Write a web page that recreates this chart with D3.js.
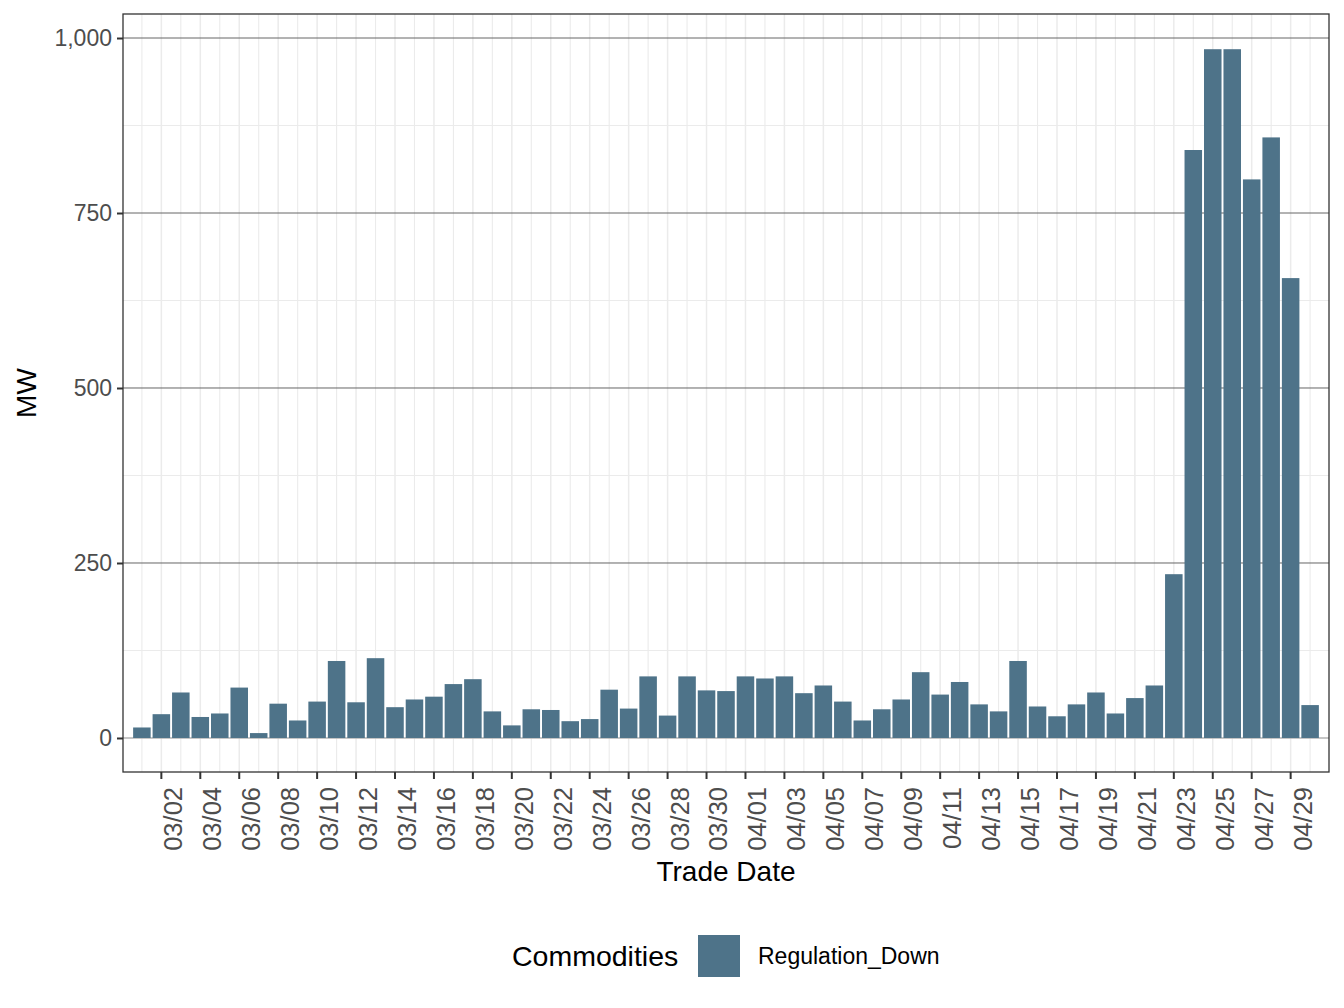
<!DOCTYPE html>
<html>
<head>
<meta charset="utf-8">
<script src="https://cdn.jsdelivr.net/npm/d3@7"></script>
<style>
    body { margin: 0; background: #fff; }
    text { font-family: "Liberation Sans", Arial, sans-serif; }
</style>
</head>
<body>
<svg id="chart" width="1344" height="1008"></svg>
<script>
const dates = [
    "03/01", "03/02", "03/03", "03/04", "03/05", "03/06", "03/07", "03/08", "03/09", "03/10",
    "03/11", "03/12", "03/13", "03/14", "03/15", "03/16", "03/17", "03/18", "03/19", "03/20",
    "03/21", "03/22", "03/23", "03/24", "03/25", "03/26", "03/27", "03/28", "03/29", "03/30",
    "03/31", "04/01", "04/02", "04/03", "04/04", "04/05", "04/06", "04/07", "04/08", "04/09",
    "04/10", "04/11", "04/12", "04/13", "04/14", "04/15", "04/16", "04/17", "04/18", "04/19",
    "04/20", "04/21", "04/22", "04/23", "04/24", "04/25", "04/26", "04/27", "04/28", "04/29",
    "04/30"
];
const regulationDown = [
    15, 34, 65, 30, 35, 72, 7, 49, 25, 52,
    110, 51, 114, 44, 55, 59, 77, 84, 38, 18,
    41, 40, 24, 27, 69, 42, 88, 32, 88, 68,
    67, 88, 85, 88, 64, 75, 52, 25, 41, 55,
    94, 62, 80, 48, 38, 110, 45, 31, 48, 65,
    35, 57, 75, 234, 840, 984, 984, 798, 858, 657,
    47
];
const xTickLabels = [
    "03/02", "03/04", "03/06", "03/08", "03/10", "03/12", "03/14", "03/16", "03/18", "03/20",
    "03/22", "03/24", "03/26", "03/28", "03/30", "04/01", "04/03", "04/05", "04/07", "04/09",
    "04/11", "04/13", "04/15", "04/17", "04/19", "04/21", "04/23", "04/25", "04/27", "04/29"
];
const yTicks = [0, 250, 500, 750, 1000];
const yMinor = [125, 375, 625, 875];
const seriesName = "Regulation_Down";
const barColor = "#4e7389";

const svg = d3.select("#chart");
const panelLeft = 123, panelRight = 1329, panelTop = 14, panelBottom = 772;

let x = d3.scaleBand().domain(dates).range([panelLeft, panelRight])
    .paddingInner(0.1).paddingOuter(0.52);
let y = d3.scaleLinear().domain([-48.6, 1034.3]).range([panelBottom, panelTop]);
let cx = (d) => x(d) + x.bandwidth() / 2;

// grid
let grid = svg.append("g");
grid.selectAll(".vgrid")
    .data(dates)
    .enter()
    .append("line")
    .attr("x1", cx).attr("x2", cx)
    .attr("y1", panelTop).attr("y2", panelBottom)
    .attr("stroke", "#ebebeb")
    .attr("stroke-width", (d) => xTickLabels.includes(d) ? 1.5 : 1.1);
grid.selectAll(".hminor")
    .data(yMinor)
    .enter()
    .append("line")
    .attr("x1", panelLeft).attr("x2", panelRight)
    .attr("y1", (d) => y(d)).attr("y2", (d) => y(d))
    .attr("stroke", "#ebebeb")
    .attr("stroke-width", 1.1);
grid.selectAll(".hmajor")
    .data(yTicks)
    .enter()
    .append("line")
    .attr("x1", panelLeft).attr("x2", panelRight)
    .attr("y1", (d) => y(d)).attr("y2", (d) => y(d))
    .attr("stroke", (d) => d === 0 ? "#b3b3b3" : "#666666")
    .attr("stroke-width", (d) => d === 0 ? 1.5 : 1);

// bars
svg.append("g")
    .selectAll("rect")
    .data(regulationDown)
    .enter()
    .append("rect")
    .attr("x", (d, i) => x(dates[i]))
    .attr("y", (d) => y(d))
    .attr("width", x.bandwidth())
    .attr("height", (d) => y(0) - y(d))
    .attr("fill", barColor);

// panel border
svg.append("rect")
    .attr("x", panelLeft).attr("y", panelTop)
    .attr("width", panelRight - panelLeft).attr("height", panelBottom - panelTop)
    .attr("fill", "none")
    .attr("stroke", "#333333")
    .attr("stroke-width", 1.3);

// axes
let yAxis = svg.append("g")
    .attr("transform", `translate(${panelLeft},0)`)
    .call(d3.axisLeft(y).tickValues(yTicks).tickFormat(d3.format(",")).tickSize(6).tickPadding(5));
let xAxis = svg.append("g")
    .attr("transform", `translate(0,${panelBottom})`)
    .call(d3.axisBottom(x).tickValues(xTickLabels).tickSize(7).tickPadding(5));

[yAxis, xAxis].forEach((ax) => {
    ax.select(".domain").remove();
    ax.selectAll(".tick line").attr("stroke", "#333333").attr("stroke-width", 2);
    ax.selectAll(".tick text")
        .attr("fill", "#4d4d4d")
        .style("font-size", "23px")
        .style("font-family", "'Liberation Sans', Arial, sans-serif");
});
xAxis.selectAll(".tick text")
    .attr("transform", "rotate(-90)")
    .attr("text-anchor", "end")
    .attr("x", -15)
    .attr("y", 0)
    .attr("dy", "0.82em")
    .style("font-size", "25.5px");

// titles
svg.append("text")
    .attr("x", (panelLeft + panelRight) / 2)
    .attr("y", 881)
    .attr("text-anchor", "middle")
    .style("font-size", "28px")
    .text("Trade Date");
svg.append("text")
    .attr("transform", `translate(36,${(panelTop + panelBottom) / 2}) rotate(-90)`)
    .attr("text-anchor", "middle")
    .style("font-size", "28px")
    .text("MW");

// legend
let legend = svg.append("g");
legend.append("text")
    .attr("x", 512).attr("y", 966)
    .style("font-size", "28.5px")
    .text("Commodities");
legend.append("rect")
    .attr("x", 698).attr("y", 935)
    .attr("width", 42).attr("height", 42)
    .attr("fill", barColor);
legend.append("text")
    .attr("x", 758).attr("y", 964)
    .style("font-size", "23px")
    .text(seriesName);
</script>
</body>
</html>
